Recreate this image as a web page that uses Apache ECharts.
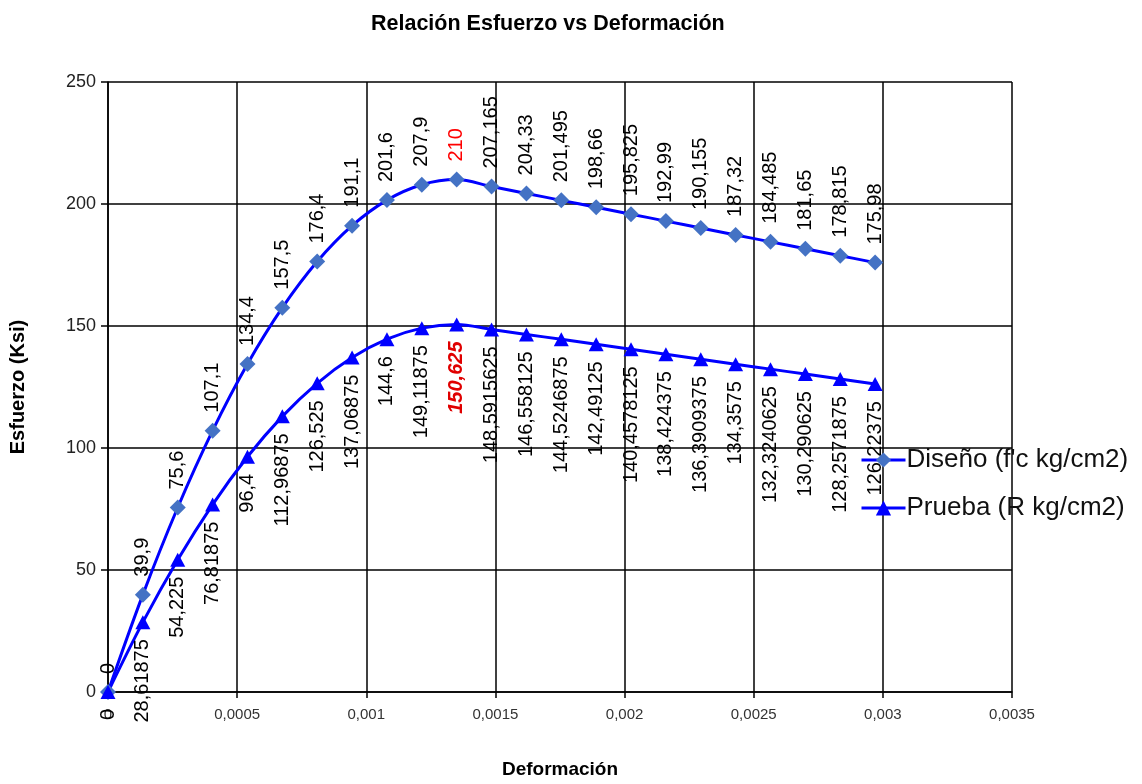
<!DOCTYPE html>
<html>
<head>
<meta charset="utf-8">
<script src="https://cdn.jsdelivr.net/npm/echarts@6/dist/echarts.min.js"></script>
<style>
html,body{margin:0;padding:0;background:#fff;}
#chart{width:1142px;height:784px;}
</style>
</head>
<body>
<div id="chart"></div>
<script>
const strain = [0, 0.000135, 0.00027, 0.000405, 0.00054, 0.000675, 0.00081, 0.000945, 0.00108, 0.001215, 0.00135, 0.001485, 0.00162, 0.001755, 0.00189, 0.002025, 0.00216, 0.002295, 0.00243, 0.002565, 0.0027, 0.002835, 0.00297];
const diseno = [0, 39.9, 75.6, 107.1, 134.4, 157.5, 176.4, 191.1, 201.6, 207.9, 210, 207.165, 204.33, 201.495, 198.66, 195.825, 192.99, 190.155, 187.32, 184.485, 181.65, 178.815, 175.98];
const prueba = [0, 28.61875, 54.225, 76.81875, 96.4, 112.96875, 126.525, 137.06875, 144.6, 149.11875, 150.625, 148.5915625, 146.558125, 144.5246875, 142.49125, 140.4578125, 138.424375, 136.3909375, 134.3575, 132.3240625, 130.290625, 128.2571875, 126.22375];
const xTicks = ['0', '0,0005', '0,001', '0,0015', '0,002', '0,0025', '0,003', '0,0035'];
const seriesNames = ["Diseño (f'c kg/cm2)", 'Prueba (R kg/cm2)'];

const FONT = '"Liberation Sans", Arial, sans-serif';
const fmt = v => String(v).replace('.', ',');
const peakD = diseno.indexOf(Math.max(...diseno));
const peakP = prueba.indexOf(Math.max(...prueba));

const dataD = strain.map((x, i) => {
  const d = { value: [x, diseno[i]] };
  if (i === peakD) d.label = { color: '#ff0000' };
  return d;
});
const dataP = strain.map((x, i) => {
  const d = { value: [x, prueba[i]] };
  if (i === peakP) d.label = { color: '#e00000', fontWeight: 'bold', fontStyle: 'italic' };
  return d;
});

const chart = echarts.init(document.getElementById('chart'), null, { renderer: 'canvas' });
chart.setOption({
  backgroundColor: '#ffffff',
  animation: false,
  textStyle: { fontFamily: FONT },
  title: {
    text: 'Relación Esfuerzo vs Deformación',
    left: 366, top: 8,
    textStyle: { fontFamily: FONT, fontSize: 21.5, fontWeight: 'bold', color: '#000' }
  },
  legend: {
    orient: 'vertical',
    left: 855, top: 442,
    itemWidth: 44, itemHeight: 19, itemGap: 22,
    lineStyle: { width: 3 },
    textStyle: { fontFamily: FONT, fontSize: 26, color: '#111', padding: [0, 0, 0, -4] },
    data: seriesNames
  },
  grid: { left: 107, right: 130, top: 82, bottom: 91, containLabel: false },
  xAxis: {
    type: 'value', min: 0, max: 0.0035, interval: 0.0005,
    name: 'Deformación', nameLocation: 'middle', nameGap: 68,
    nameTextStyle: { fontFamily: FONT, fontSize: 19, fontWeight: 'bold', color: '#000' },
    axisLine: { lineStyle: { color: '#000', width: 1.5 } },
    axisTick: { show: true, length: 6, lineStyle: { color: '#000', width: 1.5 } },
    splitLine: { show: true, lineStyle: { color: '#000', width: 1.5 } },
    axisLabel: {
      fontFamily: FONT, fontSize: 15, color: '#333', margin: 15,
      formatter: v => xTicks[Math.round(v / 0.0005)]
    }
  },
  yAxis: {
    type: 'value', min: 0, max: 250, interval: 50,
    name: 'Esfuerzo (Ksi)', nameLocation: 'middle', nameGap: 80, nameRotate: 90,
    nameTextStyle: { fontFamily: FONT, fontSize: 20, fontWeight: 'bold', color: '#000' },
    axisLine: { show: true, lineStyle: { color: '#000', width: 1.5 } },
    axisTick: { show: true, length: 7, lineStyle: { color: '#000', width: 1.5 } },
    splitLine: { show: true, lineStyle: { color: '#000', width: 1.5 } },
    axisLabel: { fontFamily: FONT, fontSize: 18, color: '#222', margin: 12 }
  },
  series: [
    {
      name: seriesNames[0], type: 'line', smooth: 0.35,
      symbol: 'diamond', symbolSize: [16, 16],
      lineStyle: { color: '#0000ff', width: 3 },
      itemStyle: { color: '#4472c4' },
      label: {
        show: true, position: 'top', rotate: 90, align: 'left', verticalAlign: 'middle',
        distance: 10, fontFamily: FONT, fontSize: 20, color: '#000',
        formatter: p => fmt(p.value[1])
      },
      z: 3,
      data: dataD
    },
    {
      name: seriesNames[1], type: 'line', smooth: 0.35,
      symbol: 'triangle', symbolSize: [15, 14],
      lineStyle: { color: '#0000ff', width: 3 },
      itemStyle: { color: '#0000ff' },
      label: {
        show: true, position: 'bottom', rotate: 90, align: 'right', verticalAlign: 'middle',
        distance: 10, fontFamily: FONT, fontSize: 20, color: '#000',
        formatter: p => fmt(p.value[1])
      },
      z: 3,
      data: dataP
    }
  ]
});
</script>
</body>
</html>
